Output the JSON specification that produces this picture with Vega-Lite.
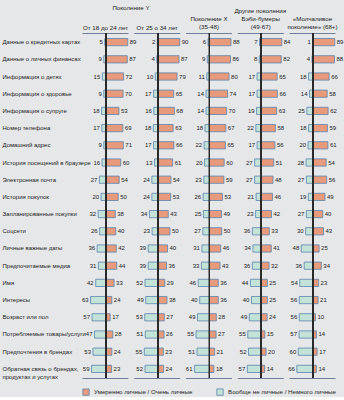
{
"$schema": "https://vega.github.io/schema/vega-lite/v6.json",
"background": "#e6e7e9",
"padding": {"left": 2, "top": 5, "right": 0, "bottom": 0},
"data": {"values": [
{"item": "Данные о кредитных картах", "a_lo": 5, "a_hi": 89, "b_lo": 2, "b_hi": 90, "c_lo": 6, "c_hi": 88, "d_lo": 7, "d_hi": 84, "e_lo": 1, "e_hi": 89},
{"item": "Данные о личных финансах", "a_lo": 9, "a_hi": 87, "b_lo": 4, "b_hi": 87, "c_lo": 9, "c_hi": 86, "d_lo": 8, "d_hi": 82, "e_lo": 4, "e_hi": 88},
{"item": "Информация о детях", "a_lo": 15, "a_hi": 72, "b_lo": 10, "b_hi": 79, "c_lo": 11, "c_hi": 80, "d_lo": 17, "d_hi": 65, "e_lo": 18, "e_hi": 66},
{"item": "Информация о здоровье", "a_lo": 9, "a_hi": 70, "b_lo": 17, "b_hi": 65, "c_lo": 14, "c_hi": 74, "d_lo": 17, "d_hi": 66, "e_lo": 14, "e_hi": 58},
{"item": "Информация о супруге", "a_lo": 18, "a_hi": 53, "b_lo": 16, "b_hi": 68, "c_lo": 14, "c_hi": 70, "d_lo": 19, "d_hi": 63, "e_lo": 25, "e_hi": 62},
{"item": "Номер телефона", "a_lo": 17, "a_hi": 69, "b_lo": 18, "b_hi": 63, "c_lo": 18, "c_hi": 67, "d_lo": 22, "d_hi": 58, "e_lo": 18, "e_hi": 59},
{"item": "Домашний адрес", "a_lo": 9, "a_hi": 71, "b_lo": 17, "b_hi": 66, "c_lo": 22, "c_hi": 65, "d_lo": 17, "d_hi": 56, "e_lo": 20, "e_hi": 61},
{"item": "История посещений в браузере", "a_lo": 16, "a_hi": 60, "b_lo": 13, "b_hi": 61, "c_lo": 20, "c_hi": 60, "d_lo": 27, "d_hi": 51, "e_lo": 28, "e_hi": 54},
{"item": "Электронная почта", "a_lo": 27, "a_hi": 54, "b_lo": 24, "b_hi": 54, "c_lo": 23, "c_hi": 59, "d_lo": 27, "d_hi": 48, "e_lo": 27, "e_hi": 56},
{"item": "История покупок", "a_lo": 20, "a_hi": 50, "b_lo": 24, "b_hi": 53, "c_lo": 26, "c_hi": 53, "d_lo": 21, "d_hi": 46, "e_lo": 19, "e_hi": 49},
{"item": "Запланированные покупки", "a_lo": 32, "a_hi": 38, "b_lo": 34, "b_hi": 43, "c_lo": 25, "c_hi": 49, "d_lo": 23, "d_hi": 42, "e_lo": 27, "e_hi": 40},
{"item": "Соцсети", "a_lo": 26, "a_hi": 40, "b_lo": 23, "b_hi": 50, "c_lo": 27, "c_hi": 50, "d_lo": 36, "d_hi": 33, "e_lo": 30, "e_hi": 43},
{"item": "Личные важные даты", "a_lo": 36, "a_hi": 42, "b_lo": 39, "b_hi": 40, "c_lo": 31, "c_hi": 46, "d_lo": 34, "d_hi": 41, "e_lo": 48, "e_hi": 25},
{"item": "Предпочитаемые медиа", "a_lo": 31, "a_hi": 44, "b_lo": 39, "b_hi": 36, "c_lo": 33, "c_hi": 43, "d_lo": 36, "d_hi": 32, "e_lo": 36, "e_hi": 34},
{"item": "Имя", "a_lo": 42, "a_hi": 33, "b_lo": 52, "b_hi": 29, "c_lo": 46, "c_hi": 36, "d_lo": 44, "d_hi": 25, "e_lo": 54, "e_hi": 23},
{"item": "Интересы", "a_lo": 63, "a_hi": 24, "b_lo": 49, "b_hi": 38, "c_lo": 40, "c_hi": 36, "d_lo": 40, "d_hi": 25, "e_lo": 56, "e_hi": 21},
{"item": "Возраст или пол", "a_lo": 57, "a_hi": 17, "b_lo": 53, "b_hi": 27, "c_lo": 49, "c_hi": 28, "d_lo": 49, "d_hi": 24, "e_lo": 56, "e_hi": 10},
{"item": "Потребляемые товары/услуги", "a_lo": 47, "a_hi": 28, "b_lo": 51, "b_hi": 26, "c_lo": 55, "c_hi": 27, "d_lo": 55, "d_hi": 15, "e_lo": 57, "e_hi": 14},
{"item": "Предпочтения в брендах", "a_lo": 53, "a_hi": 24, "b_lo": 55, "b_hi": 23, "c_lo": 51, "c_hi": 21, "d_lo": 52, "d_hi": 20, "e_lo": 60, "e_hi": 17},
{"item": "Обратная связь о брендах, продуктах и услугах", "a_lo": 59, "a_hi": 23, "b_lo": 52, "b_hi": 24, "c_lo": 61, "c_hi": 18, "d_lo": 57, "d_hi": 14, "e_lo": 66, "e_hi": 14}
]},
"bounds": "flush",
"spacing": 5.75,
"resolve": {"scale": {"x": "independent", "y": "independent", "color": "shared"}, "legend": {"color": "shared"}},
"hconcat": [
{
"width": 46, "height": 345,
"title": {"text": "Поколение Y", "frame": "group", "anchor": "middle", "dx": 26, "offset": 12.5},
"resolve": {"scale": {"x": "independent"}, "axis": {"x": "independent"}},
"layer": [
{"encoding": {"x": {"field": "a_hi", "type": "quantitative", "scale": {"domain": [-98, 90]}, "axis": {"orient": "bottom", "labels": false, "ticks": false, "grid": false, "title": null}}},
"layer": [
{"mark": {"type": "bar", "stroke": "#5b84ad", "strokeWidth": 0.8}, "encoding": {"y": {"field": "item", "type": "nominal", "sort": null, "scale": {"paddingInner": 0.58, "paddingOuter": 0.32}, "axis": {"title": null, "domain": false, "ticks": false, "labelAlign": "left", "labelPadding": 80, "labelOverlap": false, "labelExpr": "datum.label == 'Обратная связь о брендах, продуктах и услугах' ? ['Обратная связь о брендах,', 'продуктах и услугах'] : datum.label"}}, "color": {"datum": "Умеренно личные / Очень личные", "type": "nominal"}}},
{"mark": {"type": "text", "align": "left", "dx": 2}, "encoding": {"y": {"field": "item", "type": "nominal", "sort": null, "scale": {"paddingInner": 0.58, "paddingOuter": 0.32}, "axis": {"title": null, "domain": false, "ticks": false, "labelAlign": "left", "labelPadding": 80, "labelOverlap": false, "labelExpr": "datum.label == 'Обратная связь о брендах, продуктах и услугах' ? ['Обратная связь о брендах,', 'продуктах и услугах'] : datum.label"}}, "text": {"field": "a_hi"}}}
]},
{"encoding": {"x": {"field": "a_lo", "type": "quantitative", "scale": {"domain": [-90, 98], "reverse": true}, "axis": {"orient": "top", "labels": false, "ticks": false, "grid": false, "title": "От 18 до 24 лет"}}},
"layer": [
{"mark": {"type": "bar", "stroke": "#5b84ad", "strokeWidth": 0.8}, "encoding": {"y": {"field": "item", "type": "nominal", "sort": null, "scale": {"paddingInner": 0.58, "paddingOuter": 0.32}, "axis": {"title": null, "domain": false, "ticks": false, "labelAlign": "left", "labelPadding": 80, "labelOverlap": false, "labelExpr": "datum.label == 'Обратная связь о брендах, продуктах и услугах' ? ['Обратная связь о брендах,', 'продуктах и услугах'] : datum.label"}}, "color": {"datum": "Вообще не личные / Немного личные", "type": "nominal"}}},
{"mark": {"type": "text", "align": "right", "dx": -2}, "encoding": {"y": {"field": "item", "type": "nominal", "sort": null, "scale": {"paddingInner": 0.58, "paddingOuter": 0.32}, "axis": {"title": null, "domain": false, "ticks": false, "labelAlign": "left", "labelPadding": 80, "labelOverlap": false, "labelExpr": "datum.label == 'Обратная связь о брендах, продуктах и услугах' ? ['Обратная связь о брендах,', 'продуктах и услугах'] : datum.label"}}, "text": {"field": "a_lo"}}},
{"mark": {"type": "rule", "color": "#2b2b2b", "strokeWidth": 1}, "encoding": {"x": {"datum": 0, "type": "quantitative"}}}
]}
]
},
{
"width": 46, "height": 345,
"resolve": {"scale": {"x": "independent"}, "axis": {"x": "independent"}},
"layer": [
{"encoding": {"x": {"field": "b_hi", "type": "quantitative", "scale": {"domain": [-98, 90]}, "axis": {"orient": "bottom", "labels": false, "ticks": false, "grid": false, "title": null}}},
"layer": [
{"mark": {"type": "bar", "stroke": "#5b84ad", "strokeWidth": 0.8}, "encoding": {"y": {"field": "item", "type": "nominal", "sort": null, "scale": {"paddingInner": 0.58, "paddingOuter": 0.32}, "axis": null}, "color": {"datum": "Умеренно личные / Очень личные", "type": "nominal"}}},
{"mark": {"type": "text", "align": "left", "dx": 2}, "encoding": {"y": {"field": "item", "type": "nominal", "sort": null, "scale": {"paddingInner": 0.58, "paddingOuter": 0.32}, "axis": null}, "text": {"field": "b_hi"}}}
]},
{"encoding": {"x": {"field": "b_lo", "type": "quantitative", "scale": {"domain": [-90, 98], "reverse": true}, "axis": {"orient": "top", "labels": false, "ticks": false, "grid": false, "title": "От 25 о 34 лет"}}},
"layer": [
{"mark": {"type": "bar", "stroke": "#5b84ad", "strokeWidth": 0.8}, "encoding": {"y": {"field": "item", "type": "nominal", "sort": null, "scale": {"paddingInner": 0.58, "paddingOuter": 0.32}, "axis": null}, "color": {"datum": "Вообще не личные / Немного личные", "type": "nominal"}}},
{"mark": {"type": "text", "align": "right", "dx": -2}, "encoding": {"y": {"field": "item", "type": "nominal", "sort": null, "scale": {"paddingInner": 0.58, "paddingOuter": 0.32}, "axis": null}, "text": {"field": "b_lo"}}},
{"mark": {"type": "rule", "color": "#2b2b2b", "strokeWidth": 1}, "encoding": {"x": {"datum": 0, "type": "quantitative"}}}
]}
]
},
{
"width": 46, "height": 345,
"resolve": {"scale": {"x": "independent"}, "axis": {"x": "independent"}},
"layer": [
{"encoding": {"x": {"field": "c_hi", "type": "quantitative", "scale": {"domain": [-98, 90]}, "axis": {"orient": "bottom", "labels": false, "ticks": false, "grid": false, "title": null}}},
"layer": [
{"mark": {"type": "bar", "stroke": "#5b84ad", "strokeWidth": 0.8}, "encoding": {"y": {"field": "item", "type": "nominal", "sort": null, "scale": {"paddingInner": 0.58, "paddingOuter": 0.32}, "axis": null}, "color": {"datum": "Умеренно личные / Очень личные", "type": "nominal"}}},
{"mark": {"type": "text", "align": "left", "dx": 2}, "encoding": {"y": {"field": "item", "type": "nominal", "sort": null, "scale": {"paddingInner": 0.58, "paddingOuter": 0.32}, "axis": null}, "text": {"field": "c_hi"}}}
]},
{"encoding": {"x": {"field": "c_lo", "type": "quantitative", "scale": {"domain": [-90, 98], "reverse": true}, "axis": {"orient": "top", "labels": false, "ticks": false, "grid": false, "title": ["Поколение X", "(35-48)"]}}},
"layer": [
{"mark": {"type": "bar", "stroke": "#5b84ad", "strokeWidth": 0.8}, "encoding": {"y": {"field": "item", "type": "nominal", "sort": null, "scale": {"paddingInner": 0.58, "paddingOuter": 0.32}, "axis": null}, "color": {"datum": "Вообще не личные / Немного личные", "type": "nominal"}}},
{"mark": {"type": "text", "align": "right", "dx": -2}, "encoding": {"y": {"field": "item", "type": "nominal", "sort": null, "scale": {"paddingInner": 0.58, "paddingOuter": 0.32}, "axis": null}, "text": {"field": "c_lo"}}},
{"mark": {"type": "rule", "color": "#2b2b2b", "strokeWidth": 1}, "encoding": {"x": {"datum": 0, "type": "quantitative"}}}
]}
]
},
{
"width": 46, "height": 345,
"title": {"text": "Другие поколения", "frame": "group", "anchor": "middle", "offset": 2},
"resolve": {"scale": {"x": "independent"}, "axis": {"x": "independent"}},
"layer": [
{"encoding": {"x": {"field": "d_hi", "type": "quantitative", "scale": {"domain": [-98, 90]}, "axis": {"orient": "bottom", "labels": false, "ticks": false, "grid": false, "title": null}}},
"layer": [
{"mark": {"type": "bar", "stroke": "#5b84ad", "strokeWidth": 0.8}, "encoding": {"y": {"field": "item", "type": "nominal", "sort": null, "scale": {"paddingInner": 0.58, "paddingOuter": 0.32}, "axis": null}, "color": {"datum": "Умеренно личные / Очень личные", "type": "nominal"}}},
{"mark": {"type": "text", "align": "left", "dx": 2}, "encoding": {"y": {"field": "item", "type": "nominal", "sort": null, "scale": {"paddingInner": 0.58, "paddingOuter": 0.32}, "axis": null}, "text": {"field": "d_hi"}}}
]},
{"encoding": {"x": {"field": "d_lo", "type": "quantitative", "scale": {"domain": [-90, 98], "reverse": true}, "axis": {"orient": "top", "labels": false, "ticks": false, "grid": false, "title": ["Бэби-бумеры", "(49-67)"]}}},
"layer": [
{"mark": {"type": "bar", "stroke": "#5b84ad", "strokeWidth": 0.8}, "encoding": {"y": {"field": "item", "type": "nominal", "sort": null, "scale": {"paddingInner": 0.58, "paddingOuter": 0.32}, "axis": null}, "color": {"datum": "Вообще не личные / Немного личные", "type": "nominal"}}},
{"mark": {"type": "text", "align": "right", "dx": -2}, "encoding": {"y": {"field": "item", "type": "nominal", "sort": null, "scale": {"paddingInner": 0.58, "paddingOuter": 0.32}, "axis": null}, "text": {"field": "d_lo"}}},
{"mark": {"type": "rule", "color": "#2b2b2b", "strokeWidth": 1}, "encoding": {"x": {"datum": 0, "type": "quantitative"}}}
]}
]
},
{
"width": 46, "height": 345,
"resolve": {"scale": {"x": "independent"}, "axis": {"x": "independent"}},
"layer": [
{"encoding": {"x": {"field": "e_hi", "type": "quantitative", "scale": {"domain": [-98, 90]}, "axis": {"orient": "bottom", "labels": false, "ticks": false, "grid": false, "title": null}}},
"layer": [
{"mark": {"type": "bar", "stroke": "#5b84ad", "strokeWidth": 0.8}, "encoding": {"y": {"field": "item", "type": "nominal", "sort": null, "scale": {"paddingInner": 0.58, "paddingOuter": 0.32}, "axis": null}, "color": {"datum": "Умеренно личные / Очень личные", "type": "nominal"}}},
{"mark": {"type": "text", "align": "left", "dx": 2}, "encoding": {"y": {"field": "item", "type": "nominal", "sort": null, "scale": {"paddingInner": 0.58, "paddingOuter": 0.32}, "axis": null}, "text": {"field": "e_hi"}}}
]},
{"encoding": {"x": {"field": "e_lo", "type": "quantitative", "scale": {"domain": [-90, 98], "reverse": true}, "axis": {"orient": "top", "labels": false, "ticks": false, "grid": false, "title": ["«Молчаливое", "поколение» (68+)"]}}},
"layer": [
{"mark": {"type": "bar", "stroke": "#5b84ad", "strokeWidth": 0.8}, "encoding": {"y": {"field": "item", "type": "nominal", "sort": null, "scale": {"paddingInner": 0.58, "paddingOuter": 0.32}, "axis": null}, "color": {"datum": "Вообще не личные / Немного личные", "type": "nominal"}}},
{"mark": {"type": "text", "align": "right", "dx": -2}, "encoding": {"y": {"field": "item", "type": "nominal", "sort": null, "scale": {"paddingInner": 0.58, "paddingOuter": 0.32}, "axis": null}, "text": {"field": "e_lo"}}},
{"mark": {"type": "rule", "color": "#2b2b2b", "strokeWidth": 1}, "encoding": {"x": {"datum": 0, "type": "quantitative"}}}
]}
]
}
],
"config": {
"font": "Liberation Sans",
"view": {"stroke": null},
"text": {"fontSize": 6, "color": "#222"},
"axis": {"labelFontSize": 6, "labelColor": "#222", "labelFont": "Liberation Sans", "domainColor": "#6d7f99", "domainWidth": 1, "titleFontSize": 6.2, "titleFontWeight": "normal", "titleColor": "#222", "titleFont": "Liberation Sans", "titlePadding": 3},
"title": {"fontSize": 6.2, "fontWeight": "normal", "color": "#222", "font": "Liberation Sans"},
"range": {"category": ["#e89a7c", "#c3e2d8"]},
"legend": {"orient": "bottom", "direction": "horizontal", "title": null, "labelFontSize": 6.2, "labelColor": "#222", "symbolType": "square", "symbolSize": 40, "symbolStrokeColor": "#5b84ad", "symbolStrokeWidth": 0.8, "columnPadding": 22, "offset": 8}
}
}
